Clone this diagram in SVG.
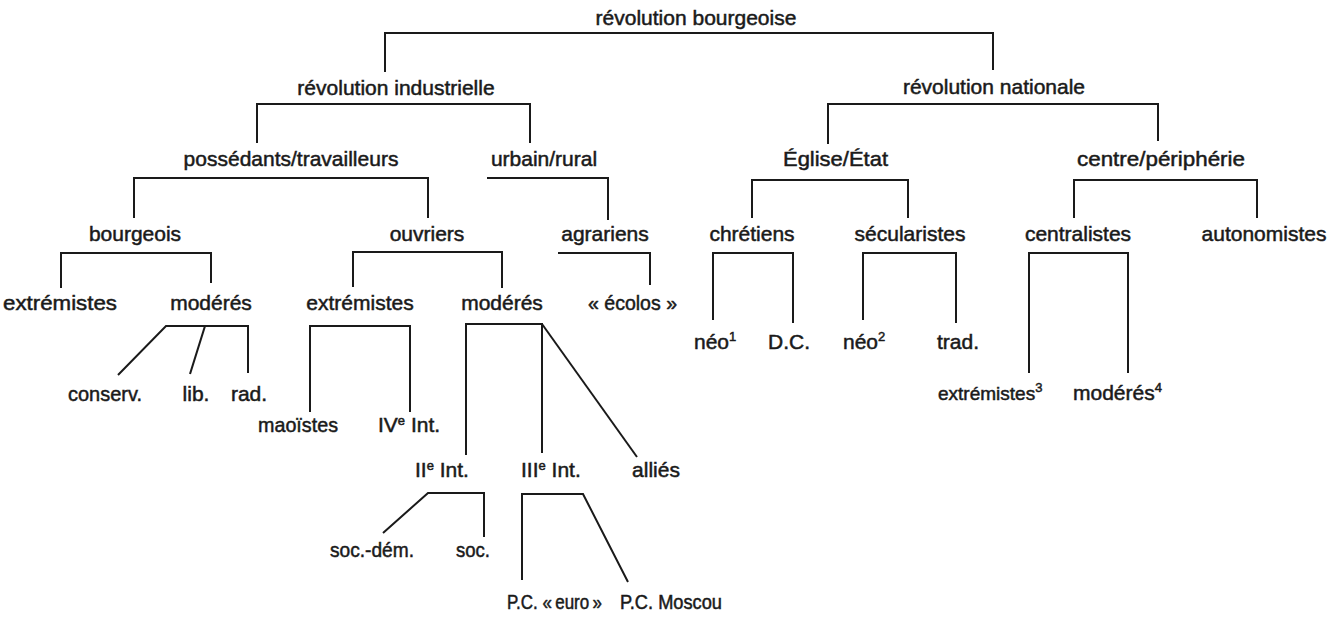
<svg xmlns="http://www.w3.org/2000/svg" width="1330" height="620" viewBox="0 0 1330 620">
<style>
.t{font-family:"Liberation Sans",Arial,sans-serif;font-size:21px;fill:#1a1a1a;stroke:#1a1a1a;stroke-width:0.5}
.m{text-anchor:middle}
.sm{font-size:19.5px}
.xs{font-size:19px}
.sup{font-size:13px}
.c{fill:none;stroke:#1a1a1a;stroke-width:2;stroke-linejoin:miter;stroke-linecap:butt}
</style>
<rect width="1330" height="620" fill="#ffffff"/>
<g id="connectors" class="c">
<path d="M385,72 V33 H993 V70"/>
<path d="M257,143 V104 H530 V143"/>
<path d="M828,144 V104 H1158 V141"/>
<path d="M134,218 V178 H428 V218"/>
<path d="M487,178 H608 V220"/>
<path d="M752,218 V180 H908 V218"/>
<path d="M1074,218 V180 H1257 V218"/>
<path d="M61,288 V253 H211 V283"/>
<path d="M353,287 V252 H502 V288"/>
<path d="M558,253 H650 V285"/>
<path d="M713,320 V253 H793 V323"/>
<path d="M863,320 V253 H956 V323"/>
<path d="M1029,373 V253 H1128 V373"/>
<path d="M118,375 L166,326 H248 V373"/>
<path d="M205,326 L190,374"/>
<path d="M310,412 V326 H410 V412"/>
<path d="M466,455 V324 H542 V453"/>
<path d="M542,324 L637,457"/>
<path d="M383,533 L428,493 H484 V537"/>
<path d="M522,580 V494 H583 L628,582"/>
</g>
<g id="n-rev-bourgeoise"><text class="t m" x="696" y="25">révolution bourgeoise</text></g>
<g id="n-rev-industrielle"><text class="t m" x="396" y="95">révolution industrielle</text></g>
<g id="n-rev-nationale"><text class="t m" x="994" y="94">révolution nationale</text></g>
<g id="n-possedants"><text class="t m" x="291" y="166">possédants/travailleurs</text></g>
<g id="n-urbain"><text class="t m" x="544" y="166">urbain/rural</text></g>
<g id="n-eglise"><text class="t" x="783" y="166" textLength="105" lengthAdjust="spacingAndGlyphs">Église/État</text></g>
<g id="n-centre"><text class="t" x="1077" y="166" textLength="168" lengthAdjust="spacingAndGlyphs">centre/périphérie</text></g>
<g id="n-bourgeois"><text class="t m" x="135" y="241">bourgeois</text></g>
<g id="n-ouvriers"><text class="t m" x="427" y="241">ouvriers</text></g>
<g id="n-agrariens"><text class="t m" x="605" y="241">agrariens</text></g>
<g id="n-chretiens"><text class="t m" x="752" y="241">chrétiens</text></g>
<g id="n-secularistes"><text class="t m" x="910" y="241">sécularistes</text></g>
<g id="n-centralistes"><text class="t m" x="1078" y="241">centralistes</text></g>
<g id="n-autonomistes"><text class="t m" x="1264" y="241">autonomistes</text></g>
<g id="n-b-extremistes"><text class="t" x="3" y="310" textLength="114" lengthAdjust="spacingAndGlyphs">extrémistes</text></g>
<g id="n-b-moderes"><text class="t m" x="211" y="310">modérés</text></g>
<g id="n-o-extremistes"><text class="t m" x="360" y="310">extrémistes</text></g>
<g id="n-o-moderes"><text class="t m" x="502" y="310">modérés</text></g>
<g id="n-ecolos"><text class="t" x="588" y="310" textLength="89" lengthAdjust="spacingAndGlyphs">« écolos »</text></g>
<g id="n-neo1"><text class="t" x="694" y="349">néo<tspan class="sup" dy="-8">1</tspan></text></g>
<g id="n-dc"><text class="t m" x="789" y="349">D.C.</text></g>
<g id="n-neo2"><text class="t" x="843" y="349">néo<tspan class="sup" dy="-8">2</tspan></text></g>
<g id="n-trad"><text class="t m" x="958" y="349">trad.</text></g>
<g id="n-conserv"><text class="t" x="68" y="401" textLength="74" lengthAdjust="spacingAndGlyphs">conserv.</text></g>
<g id="n-lib"><text class="t m" x="196" y="401">lib.</text></g>
<g id="n-rad"><text class="t m" x="249" y="401">rad.</text></g>
<g id="n-c-extremistes"><text class="t xs" x="938" y="400">extrémistes<tspan class="sup" dy="-8">3</tspan></text></g>
<g id="n-c-moderes"><text class="t" x="1073" y="400">modérés<tspan class="sup" dy="-8">4</tspan></text></g>
<g id="n-maoistes"><text class="t" x="258" y="432" textLength="80" lengthAdjust="spacingAndGlyphs">maoïstes</text></g>
<g id="n-iv-int"><text class="t" x="378" y="432">IV<tspan class="sup" dy="-7">e</tspan><tspan dy="7"> Int.</tspan></text></g>
<g id="n-ii-int"><text class="t" x="415" y="477">II<tspan class="sup" dy="-7">e</tspan><tspan dy="7"> Int.</tspan></text></g>
<g id="n-iii-int"><text class="t" x="521" y="477">III<tspan class="sup" dy="-7">e</tspan><tspan dy="7"> Int.</tspan></text></g>
<g id="n-allies"><text class="t m" x="656" y="477">alliés</text></g>
<g id="n-soc-dem"><text class="t" x="330" y="557" textLength="84" lengthAdjust="spacingAndGlyphs">soc.-dém.</text></g>
<g id="n-soc"><text class="t" x="456" y="557" textLength="34" lengthAdjust="spacingAndGlyphs">soc.</text></g>
<g id="n-pc-euro"><text class="t sm" x="507" y="609" textLength="95" lengthAdjust="spacingAndGlyphs">P.C. «&#8201;euro&#8201;»</text></g>
<g id="n-pc-moscou"><text class="t sm" x="620" y="609" textLength="102" lengthAdjust="spacingAndGlyphs">P.C. Moscou</text></g>
</svg>
